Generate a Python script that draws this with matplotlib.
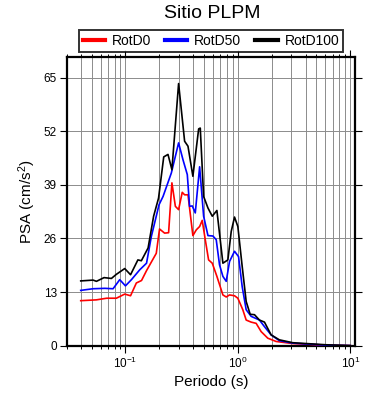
import matplotlib
matplotlib.use('Agg')
import matplotlib.pyplot as plt
from matplotlib.ticker import LogLocator, FixedLocator, NullFormatter
from matplotlib.lines import Line2D

plt.rcParams['font.family'] = ['Liberation Sans', 'DejaVu Sans']
plt.rcParams['mathtext.fontset'] = 'custom'
plt.rcParams['mathtext.rm'] = 'Liberation Sans'
plt.rcParams['mathtext.it'] = 'Liberation Sans:italic'

title = 'Sitio PLPM'
series_names = ['RotD0', 'RotD50', 'RotD100']
series_colors = ['red', 'blue', 'black']

# periodos (s) y PSA (cm/s^2)
period_d0 = [0.040, 0.055, 0.068, 0.083, 0.0985, 0.111, 0.125, 0.139, 0.154, 0.188,
             0.201, 0.223, 0.242, 0.259, 0.278, 0.297, 0.320, 0.336, 0.360, 0.398,
             0.427, 0.457, 0.482, 0.513, 0.549, 0.592, 0.651, 0.736, 0.788, 0.843,
             0.934, 1.0, 1.107, 1.186, 1.313, 1.455, 1.611, 1.846, 2.19, 3.08, 6.09, 10.0]
psa_d0 = [10.9, 11.1, 11.5, 11.5, 12.5, 12.1, 15.2, 15.8, 18.2, 22.4,
          28.3, 27.3, 27.4, 39.5, 33.8, 33.0, 37.2, 36.6, 36.6, 26.7,
          28.1, 28.9, 30.4, 25.7, 20.8, 20.0, 16.8, 12.3, 11.8, 12.3,
          12.1, 11.5, 8.7, 6.2, 5.7, 5.4, 3.4, 1.8, 1.0, 0.5, 0.1, 0.0]

period_d50 = [0.040, 0.0515, 0.0655, 0.0776, 0.0889, 0.1, 0.113, 0.134, 0.154, 0.170,
              0.199, 0.216, 0.256, 0.297, 0.325, 0.355, 0.372, 0.393, 0.418, 0.457,
              0.496, 0.542, 0.600, 0.642, 0.687, 0.736, 0.788, 0.843, 0.934, 1.014,
              1.093, 1.186, 1.313, 1.557, 1.725, 1.977, 2.34, 3.08, 6.09, 10.0]
psa_d50 = [13.4, 13.8, 13.9, 13.8, 16.0, 14.5, 16.0, 18.4, 20.0, 26.5,
           34.2, 36.2, 41.9, 49.2, 45.1, 41.5, 33.8, 33.9, 32.2, 43.4,
           31.4, 26.7, 26.6, 25.7, 19.6, 16.8, 15.6, 20.4, 22.9, 21.6,
           14.3, 8.7, 7.1, 6.2, 4.6, 2.6, 1.2, 0.6, 0.1, 0.0]

period_d100 = [0.040, 0.0515, 0.0552, 0.0645, 0.075, 0.083, 0.0985, 0.111, 0.129, 0.1385,
               0.159, 0.178, 0.197, 0.219, 0.239, 0.259, 0.297, 0.336, 0.360, 0.398,
               0.448, 0.463, 0.496, 0.542, 0.592, 0.651, 0.736, 0.815, 0.873, 0.934,
               1.0, 1.093, 1.186, 1.287, 1.406, 1.557, 1.725, 1.977, 2.34, 3.08,
               6.09, 10.0]
psa_d100 = [15.7, 15.9, 15.6, 16.5, 16.3, 17.3, 18.7, 17.2, 20.8, 20.6,
            23.7, 31.4, 35.8, 45.8, 46.4, 42.7, 63.6, 49.6, 48.4, 41.1,
            52.6, 52.8, 36.2, 33.4, 31.4, 32.8, 20.0, 20.8, 27.7, 31.2,
            28.9, 19.2, 10.7, 7.6, 7.5, 6.2, 5.7, 2.6, 1.4, 0.7,
            0.2, 0.0]

y_ticks = [0, 13, 26, 39, 52, 65]

fig = plt.figure(figsize=(3.9, 4.0), dpi=100)
ax = fig.add_axes([0.171, 0.136, 0.739, 0.721])

for per, psa, col in zip([period_d0, period_d50, period_d100],
                         [psa_d0, psa_d50, psa_d100], series_colors):
    ax.plot(per, psa, color=col, lw=1.2, zorder=3)

ax.set_xscale('log')
ax.set_xlim(0.03, 11)
ax.set_ylim(0, 70)

ax.xaxis.set_major_locator(LogLocator(base=10, numticks=10))
ax.xaxis.set_minor_locator(LogLocator(base=10, subs=range(2, 10), numticks=20))
ax.xaxis.set_minor_formatter(NullFormatter())
ax.yaxis.set_major_locator(FixedLocator(y_ticks))

ax.grid(True, which='both', axis='x', color='#8c8c8c', lw=0.7)
ax.grid(True, which='major', axis='y', color='#8c8c8c', lw=0.7)

ax.tick_params(which='major', direction='out', length=5, width=0.8,
               top=True, right=True, labelsize=8.5, pad=2)
ax.tick_params(which='minor', direction='out', length=2.5, width=0.7,
               top=True, right=True)
for s in ax.spines.values():
    s.set_linewidth(1.6)

ax.set_xlabel('Periodo (s)', fontsize=11, labelpad=3)
ax.set_ylabel('PSA (cm/s$^2$)', fontsize=11, labelpad=4)
fig.text(0.545, 0.966, title, ha='center', va='center', fontsize=14)

handles = [Line2D([], [], color=c, lw=3) for c in series_colors]
leg = fig.legend(handles, series_names, loc='center', bbox_to_anchor=(0.541, 0.8975),
                 ncol=3, fontsize=10, frameon=True, fancybox=False, edgecolor='black',
                 handlelength=1.6, handletextpad=0.5, columnspacing=1.0,
                 borderpad=0.3, borderaxespad=0)
leg.get_frame().set_linewidth(1.4)

fig.savefig('out.png', dpi=100)
